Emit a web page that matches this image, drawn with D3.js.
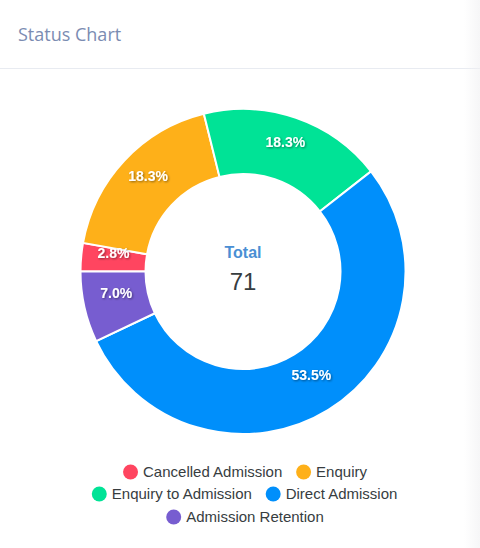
<!DOCTYPE html>
<html><head><meta charset="utf-8">
<script src="https://cdn.jsdelivr.net/npm/d3@7"></script>
<style>
html,body{margin:0;padding:0;background:#fff;width:480px;height:548px;overflow:hidden}
#card{position:absolute;left:0;top:0;width:480px;height:560px;background:#fff;border-radius:8px 0 0 0}
#edge{position:absolute;left:464px;top:0;width:16px;height:548px;background:linear-gradient(to right,rgba(240,240,242,0),rgba(240,240,242,0.6));pointer-events:none}
</style></head>
<body><div id="card"></div><div id="edge"></div>
<script>
const categories = ["Cancelled Admission","Enquiry","Enquiry to Admission","Direct Admission","Admission Retention"];
const values = [2,13,13,38,5];
const colors = ["#FF4560","#FEB019","#00E396","#008FFB","#775DD0"];
const title = "Status Chart";

const W=480,H=548;
const svg=d3.select("#card").append("svg").attr("width",W).attr("height",H)
  .style("position","absolute").style("left","0").style("top","0");
const defs=svg.append("defs");
const f=defs.append("filter").attr("id","ds").attr("x","-20%").attr("y","-40%").attr("width","140%").attr("height","180%");
f.append("feDropShadow").attr("dx",1).attr("dy",1).attr("stdDeviation",1).attr("flood-color","#000").attr("flood-opacity",0.45);

svg.append("text").attr("x",18).attr("y",41).text(title)
  .attr("font-family","'Open Sans', sans-serif").attr("font-size",18).attr("fill","#7b8cb2");
svg.append("line").attr("x1",0).attr("x2",480).attr("y1",68.5).attr("y2",68.5).attr("stroke","#e8ebf1").attr("stroke-width",1);

const cx=243,cy=271.5,R=162.5,r=97.5;
const total=d3.sum(values);
const pie=d3.pie().sort(null).startAngle(-Math.PI/2).endAngle(1.5*Math.PI);
const arcs=pie(values);
const arc=d3.arc().innerRadius(r).outerRadius(R);
const labelArc=d3.arc().innerRadius((R+r)/2).outerRadius((R+r)/2);
const g=svg.append("g").attr("transform",`translate(${cx},${cy})`);
g.selectAll("path").data(arcs).join("path").attr("d",arc)
  .attr("fill",(d,i)=>colors[i]).attr("stroke","#fff").attr("stroke-width",2);
g.selectAll("text.lbl").data(arcs).join("text").attr("class","lbl")
  .attr("transform",d=>`translate(${labelArc.centroid(d)})`)
  .attr("text-anchor","middle").attr("dy","-0.12em")
  .attr("font-family","Arial, Helvetica, sans-serif").attr("font-weight","bold").attr("font-size",14)
  .attr("fill","#fff").attr("filter","url(#ds)")
  .text(d=>(d.data/total*100).toFixed(1)+"%");

g.append("text").attr("y",-14).attr("text-anchor","middle").text("Total")
  .attr("font-family","Arial, Helvetica, sans-serif").attr("font-weight","bold").attr("font-size",16).attr("fill","#4a8fd4");
g.append("text").attr("y",18).attr("text-anchor","middle").text(total)
  .attr("font-family","Arial, Helvetica, sans-serif").attr("font-size",24).attr("fill","#373d3f");

// legend
const rows=[[0,1],[2,3],[4]];
const rowY=[472,494,517];
const leg=svg.append("g");
const ctx=document.createElement("canvas").getContext("2d");ctx.font="15px Arial, Helvetica, sans-serif";
rows.forEach((row,ri)=>{
  const items=row.map(i=>({i,w:15+5+ctx.measureText(categories[i]).width}));
  const gap=13;
  const tw=d3.sum(items,d=>d.w)+gap*(items.length-1);
  let x=245-tw/2;
  items.forEach(it=>{
    leg.append("circle").attr("cx",x+7.5).attr("cy",rowY[ri]).attr("r",7.5).attr("fill",colors[it.i]);
    leg.append("text").attr("x",x+20).attr("y",rowY[ri]).attr("dy","0.35em").text(categories[it.i])
      .attr("font-family","Arial, Helvetica, sans-serif").attr("font-size",15).attr("fill","#373d3f");
    x+=it.w+gap;
  });
});
</script></body></html>
